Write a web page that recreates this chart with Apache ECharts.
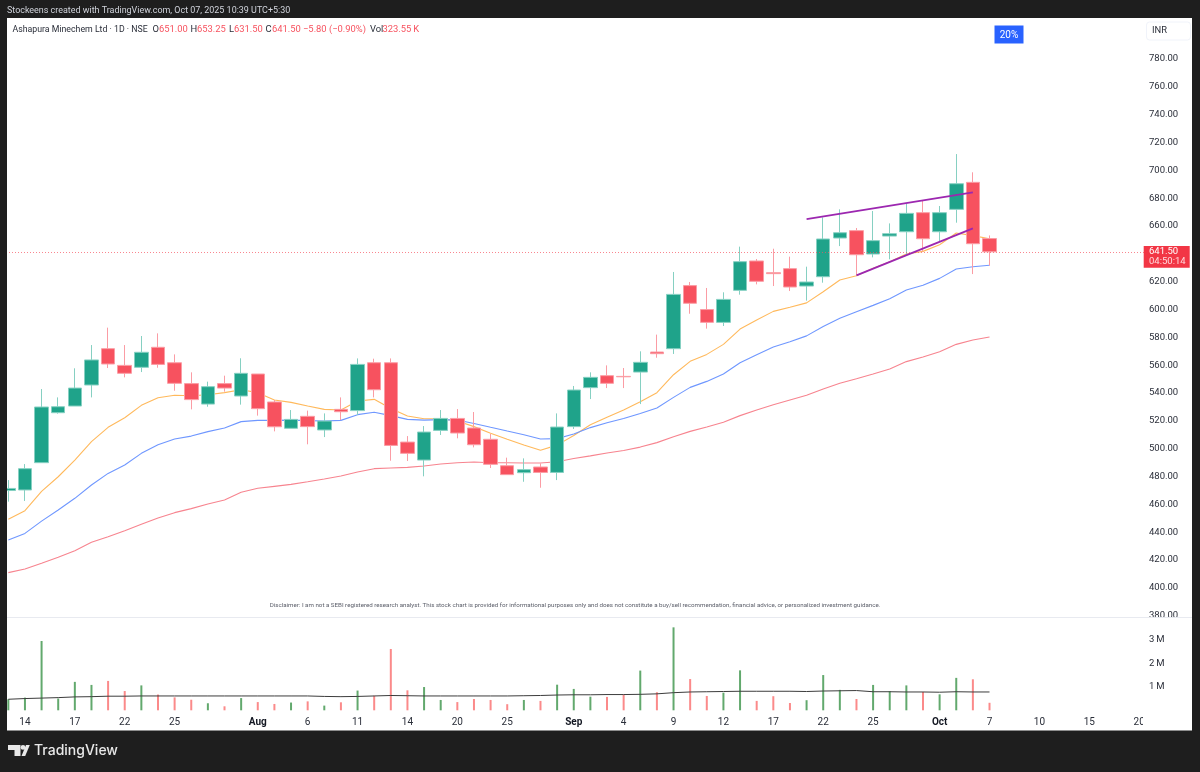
<!DOCTYPE html>
<html>
<head>
    <meta charset="UTF-8">
    <title>Ashapura Minechem Ltd - 1D</title>
    <script src="https://cdn.jsdelivr.net/npm/echarts@6/dist/echarts.min.js"></script>
    <style>
        html, body { margin: 0; padding: 0; background: #1e1e1e; }
    </style>
</head>
<body>
<div id="chart" style="width:1200px; height:772px;"></div>
<script>
    // one entry per axis slot, bars stop at index 59, rest is empty space on the right
    var dateLabels = ['', '14', '', '', '17', '', '', '22', '', '', '25', '', '', '', '', 'Aug', '', '', '6', '', '', '11', '', '', '14', '', '', '20', '', '', '25', '', '', '', 'Sep', '', '', '4', '', '', '9', '', '', '12', '', '', '17', '', '', '22', '', '', '25', '', '', '', 'Oct', '', '', '7', '', '', '10', '', '', '15', '', '', '20'];

    var opens = [470.0, 470.4, 490.0, 525.9, 530.7, 545.8, 571.9, 559.9, 558.5, 572.9, 561.8, 546.8, 532.1, 546.8, 537.9, 553.7, 533.6, 514.7, 523.3, 513.5, 528.3, 527.4, 561.8, 561.8, 504.8, 491.9, 513.2, 521.8, 514.9, 506.8, 487.8, 482.8, 486.9, 483.0, 515.9, 543.9, 552.5, 552.0, 555.1, 569.5, 571.9, 617.2, 600.0, 590.8, 613.8, 634.9, 626.5, 629.4, 616.9, 623.6, 651.4, 656.7, 639.9, 652.8, 655.9, 669.6, 655.9, 672.0, 691.4, 651.0];
    var closes = [471.5, 485.7, 530.0, 530.2, 543.6, 563.8, 560.9, 554.2, 569.3, 560.6, 547.0, 535.3, 544.6, 543.6, 554.2, 528.8, 515.8, 521.1, 515.9, 519.9, 526.6, 560.6, 542.4, 502.4, 496.7, 512.0, 521.8, 511.3, 502.9, 488.8, 481.4, 485.0, 483.0, 515.6, 542.2, 551.3, 547.0, 551.7, 562.1, 568.3, 610.9, 604.5, 590.8, 607.3, 634.4, 620.3, 625.8, 616.2, 619.8, 650.7, 655.2, 639.4, 649.5, 654.5, 669.1, 650.9, 669.6, 690.4, 647.3, 641.5];
    var lows = [462.0, 462.5, 490.0, 525.2, 530.7, 536.9, 558.0, 551.3, 555.1, 558.2, 541.7, 528.3, 530.2, 541.0, 531.7, 523.8, 512.5, 514.7, 503.2, 508.4, 520.6, 524.2, 536.9, 491.4, 491.2, 480.2, 509.9, 507.5, 501.0, 486.2, 481.4, 476.3, 472.0, 477.5, 514.2, 535.7, 543.6, 543.6, 532.1, 565.4, 568.1, 597.0, 586.3, 588.2, 610.7, 618.1, 616.9, 613.3, 606.4, 619.3, 645.6, 624.8, 637.5, 636.1, 639.2, 641.6, 648.8, 662.4, 625.5, 631.5];
    var highs = [477.5, 489.0, 542.9, 536.9, 557.8, 574.5, 587.0, 574.5, 581.0, 582.9, 567.8, 554.9, 548.2, 552.5, 565.0, 553.7, 535.0, 527.8, 527.4, 525.4, 536.9, 564.9, 564.7, 564.9, 509.1, 516.3, 527.8, 528.5, 526.4, 510.6, 493.6, 493.1, 489.5, 525.4, 545.1, 554.9, 559.9, 558.0, 570.0, 582.0, 627.0, 619.8, 615.5, 612.4, 645.2, 636.3, 643.7, 638.0, 630.8, 666.2, 672.0, 658.6, 670.8, 661.9, 676.3, 678.2, 674.4, 711.7, 698.6, 653.25];

    // moving averages
    var emaFast = [449.3, 455.5, 469.4, 479.9, 491.9, 505.1, 515.4, 522.3, 531.2, 536.7, 538.4, 538.1, 538.8, 540.3, 542.4, 540.3, 535.0, 533.3, 530.7, 528.3, 527.8, 534.3, 535.5, 529.0, 523.5, 521.6, 521.6, 519.9, 515.9, 511.1, 506.8, 502.7, 498.9, 502.6, 509.5, 517.3, 522.6, 527.8, 533.8, 540.3, 553.2, 562.8, 567.8, 575.0, 586.0, 592.5, 598.7, 601.6, 604.8, 612.8, 621.2, 624.3, 629.6, 634.4, 639.9, 641.8, 646.6, 655.0, 653.1, 650.9];
    var emaMid = [434.4, 439.2, 448.0, 456.0, 464.4, 474.0, 482.3, 488.3, 496.7, 502.9, 507.0, 509.1, 512.3, 514.9, 519.5, 520.4, 520.4, 520.6, 520.2, 519.9, 520.4, 524.5, 526.2, 523.8, 521.1, 520.6, 520.9, 520.6, 518.2, 515.4, 512.7, 510.1, 507.0, 507.3, 510.6, 515.2, 518.7, 521.8, 525.4, 529.3, 536.9, 544.1, 548.4, 553.7, 561.8, 567.6, 573.1, 576.9, 581.1, 587.9, 593.7, 598.5, 603.0, 607.8, 614.0, 617.4, 622.4, 629.1, 630.8, 631.8];
    var emaSlow = [411.0, 413.6, 417.7, 422.0, 426.8, 432.8, 436.8, 441.1, 445.7, 450.2, 454.1, 457.0, 460.3, 463.2, 468.7, 471.6, 473.0, 474.4, 476.3, 478.3, 480.4, 483.3, 485.7, 486.2, 486.6, 487.6, 489.0, 490.0, 490.5, 490.0, 490.0, 489.8, 489.8, 490.7, 493.0, 494.9, 497.0, 498.8, 501.2, 504.4, 508.7, 512.5, 515.6, 519.0, 523.8, 527.8, 531.6, 535.0, 538.4, 543.0, 547.0, 550.3, 553.7, 557.3, 562.6, 565.9, 569.7, 575.0, 578.1, 580.3];

    // volume in millions
    var volumes = [0.47, 0.54, 2.95, 0.50, 1.21, 1.08, 1.25, 0.82, 1.06, 0.67, 0.55, 0.45, 0.30, 0.17, 0.52, 0.35, 0.27, 0.33, 0.38, 0.20, 0.34, 0.84, 0.62, 2.61, 0.85, 0.99, 0.44, 0.35, 0.48, 0.44, 0.26, 0.44, 0.40, 1.09, 0.91, 0.58, 0.57, 0.67, 1.69, 0.77, 3.53, 1.33, 0.61, 0.75, 1.70, 0.40, 0.60, 0.31, 0.43, 1.50, 0.87, 0.48, 1.08, 0.82, 1.06, 0.78, 0.68, 1.38, 1.32, 0.32];
    var volumeAvg = [0.47, 0.50, 0.52, 0.54, 0.57, 0.58, 0.60, 0.60, 0.61, 0.61, 0.61, 0.61, 0.61, 0.61, 0.61, 0.61, 0.61, 0.61, 0.61, 0.59, 0.58, 0.59, 0.61, 0.63, 0.62, 0.61, 0.61, 0.61, 0.61, 0.61, 0.61, 0.62, 0.63, 0.65, 0.66, 0.66, 0.67, 0.67, 0.68, 0.70, 0.75, 0.78, 0.79, 0.80, 0.81, 0.81, 0.81, 0.81, 0.80, 0.82, 0.83, 0.84, 0.79, 0.79, 0.78, 0.78, 0.77, 0.79, 0.78, 0.78];

    // trendlines drawn on the chart, [bar index, price]
    var trendUpper = [[48, 665.0], [58, 684.2]];
    var trendLower = [[51, 624.6], [58, 658.3]];

    var lastPrice = 641.5;

    var FONT = 'Roboto';
    var UP = '#1fa38a', DOWN = '#f7525f';
    var UP_WICK = '#86d0c2', DOWN_WICK = '#fb9ca4';
    var FRAME = '#1e1e1e', TXT = '#2a2e39';

    var candles = opens.map(function (o, i) { return [o, closes[i], lows[i], highs[i]]; });
    var volumeBars = volumes.map(function (v, i) {
        var up = closes[i] >= opens[i];
        return {value: v, itemStyle: {color: up ? '#62a96d' : '#fb8a8a'}};
    });

    function maSeries(name, data, color) {
        return {
            name: name, type: 'line', data: data, symbol: 'none', z: 3, silent: true,
            lineStyle: {color: color, width: 1.1}
        };
    }

    function trendSeries(name, data) {
        return {
            name: name, type: 'line', data: data, symbol: 'none', z: 6, silent: true,
            lineStyle: {color: '#9c27b0', width: 1.8}
        };
    }

    function box(x, y, w, h, fill, z) {
        return {type: 'rect', shape: {x: x, y: y, width: w, height: h}, style: {fill: fill}, z: z, silent: true};
    }

    function label(x, y, text, fontSize, color, z, extra) {
        var style = {x: x, y: y, text: text, fontFamily: FONT, fontSize: fontSize, fill: color, verticalAlign: 'middle'};
        for (var k in (extra || {})) style[k] = extra[k];
        return {type: 'text', style: style, z: z, silent: true};
    }

    var V = '#f7525f';
    var chart = echarts.init(document.getElementById('chart'), null, {renderer: 'canvas'});
    var option = {
        animation: false,
        backgroundColor: '#ffffff',
        grid: [
            {left: 0, width: 1147.5, top: 59, height: 556.8},
            {left: 0, width: 1147.5, top: 616.3, height: 94}
        ],
        xAxis: [
            {
                type: 'category', gridIndex: 0, data: dateLabels, boundaryGap: true,
                axisLine: {show: false}, axisTick: {show: false}, axisLabel: {show: false}, splitLine: {show: false}
            },
            {
                type: 'category', gridIndex: 1, data: dateLabels, boundaryGap: true, z: 3,
                axisLine: {show: false}, axisTick: {show: false}, splitLine: {show: false},
                axisLabel: {
                    interval: 0, margin: 7, fontFamily: FONT, fontSize: 10, color: TXT,
                    formatter: function (v) { return /^[A-Z]/.test(v) ? '{m|' + v + '}' : v; },
                    rich: {m: {fontFamily: FONT, fontSize: 10, fontWeight: 700, color: '#131722'}}
                }
            }
        ],
        yAxis: [
            {
                type: 'value', gridIndex: 0, position: 'right', min: 380, max: 780, interval: 20,
                axisLine: {show: false}, axisTick: {show: false}, splitLine: {show: false},
                axisLabel: {
                    margin: 1.5, padding: [2, 0, 0, 0], fontFamily: FONT, fontSize: 9.5, color: TXT,
                    formatter: function (v) { return v.toFixed(2); }
                }
            },
            {
                type: 'value', gridIndex: 1, position: 'right', min: 0, max: 4, interval: 1, z: 3,
                axisLine: {show: false}, axisTick: {show: false}, splitLine: {show: false},
                axisLabel: {
                    margin: 1.5, padding: [2, 0, 0, 0], fontFamily: FONT, fontSize: 9.5, color: TXT,
                    formatter: function (v) { return v > 0 && v < 4 ? v + '\u2009M' : ''; }
                }
            }
        ],
        series: [
            {
                name: 'Price', type: 'candlestick', data: candles, barWidth: 14, z: 4, silent: true,
                itemStyle: {color: UP, color0: DOWN, borderColor: UP_WICK, borderColor0: DOWN_WICK, borderWidth: 1},
                markLine: {
                    silent: true, symbol: 'none', animation: false, label: {show: false},
                    lineStyle: {color: '#f7525f', type: [1, 2], width: 1, opacity: 0.7},
                    data: [{yAxis: lastPrice}]
                }
            },
            maSeries('EMA fast', emaFast, '#ffb95c'),
            maSeries('EMA mid', emaMid, '#6f97ff'),
            maSeries('EMA slow', emaSlow, '#f7848f'),
            trendSeries('Upper trend', trendUpper),
            trendSeries('Lower trend', trendLower),
            {
                name: 'Volume', type: 'bar', xAxisIndex: 1, yAxisIndex: 1, data: volumeBars,
                barWidth: 2, z: 2, silent: true
            },
            {
                name: 'Volume average', type: 'line', xAxisIndex: 1, yAxisIndex: 1, data: volumeAvg,
                symbol: 'none', z: 3, silent: true, lineStyle: {color: '#3c3c3c', width: 1}
            }
        ],
        graphic: [
            // hides the lower half of the 380.00 label, sits under the volume pane
            box(1147.5, 617, 45, 93, '#ffffff', 1),
            box(7, 617, 1185, 0.8, '#e0e3eb', 1),
            // clipped "20" at the end of the time scale
            box(1143, 714, 6, 14, '#ffffff', 5),

            // dark frame
            box(0, 0, 1200, 18, FRAME, 20),
            box(0, 730.5, 1200, 42, FRAME, 20),
            box(0, 0, 7, 772, FRAME, 20),
            box(1192, 0, 8, 772, FRAME, 20),

            label(7, 11, 'Stockeens created with TradingView.com, Oct 07, 2025 10:39 UTC+5:30', 8.95, '#d1d4dc', 21),

            // legend line
            label(12.5, 30, 'Ashapura Minechem Ltd \u00b7 1D \u00b7 NSE', 8.75, TXT, 21),
            label(152.5, 30, 'O', 9.4, TXT, 21),
            label(159, 30, '651.00', 9.4, V, 21),
            label(190.5, 30, 'H', 9.4, TXT, 21),
            label(197, 30, '653.25', 9.4, V, 21),
            label(229, 30, 'L', 9.4, TXT, 21),
            label(234, 30, '631.50', 9.4, V, 21),
            label(265.5, 30, 'C', 9.4, TXT, 21),
            label(272, 30, '641.50', 9.4, V, 21),
            label(303, 30, '\u22125.80 (\u22120.90%)', 9.4, V, 21),
            label(370, 30, 'Vol', 9.4, TXT, 21),
            label(382.5, 30, '323.55\u2009K', 9.4, V, 21),

            // 20% badge
            box(994.5, 25.5, 29, 18, '#2962ff', 21),
            label(1009, 35, '20%', 10, '#ffffff', 22, {align: 'center'}),

            // currency box
            {type: 'rect', shape: {x: 1146.5, y: 22, width: 44, height: 18, r: 3}, style: {fill: '#fff', stroke: '#f0f3fa'}, z: 21, silent: true},
            label(1152, 30.5, 'INR', 9.4, TXT, 22),

            // last price tag
            box(1143.7, 246, 46, 21.7, '#f23645', 21),
            label(1149, 252, '641.50', 9.5, '#ffffff', 22),
            label(1149, 262, '04:50:14', 9.5, '#ffd9dc', 22),

            // disclaimer
            label(575, 605.5, 'Disclaimer: I am not a SEBI registered research analyst. This stock chart is provided for informational purposes only and does not constitute a buy/sell recommendation, financial advice, or personalized investment guidance.', 6.2, '#5d606b', 21, {align: 'center'}),

            // footer logo
            {type: 'polygon', shape: {points: [[8, 745], [20.5, 745], [20.5, 756], [14.5, 756], [14.5, 750], [8, 750]]}, style: {fill: '#e8e8e8'}, z: 21, silent: true},
            {type: 'circle', shape: {cx: 23, cy: 747.4, r: 2.4}, style: {fill: '#e8e8e8'}, z: 21, silent: true},
            {type: 'polygon', shape: {points: [[26, 745], [29.8, 745], [25.2, 756], [21.5, 756]]}, style: {fill: '#e8e8e8'}, z: 21, silent: true},
            {type: 'text', style: {x: 34, y: 751, text: 'TradingView', fontFamily: 'Inter', fontSize: 14, fontWeight: 500, fill: '#e8e8e8', verticalAlign: 'middle'}, z: 21, silent: true}
        ]
    };
    chart.setOption(option);
</script>
</body>
</html>
